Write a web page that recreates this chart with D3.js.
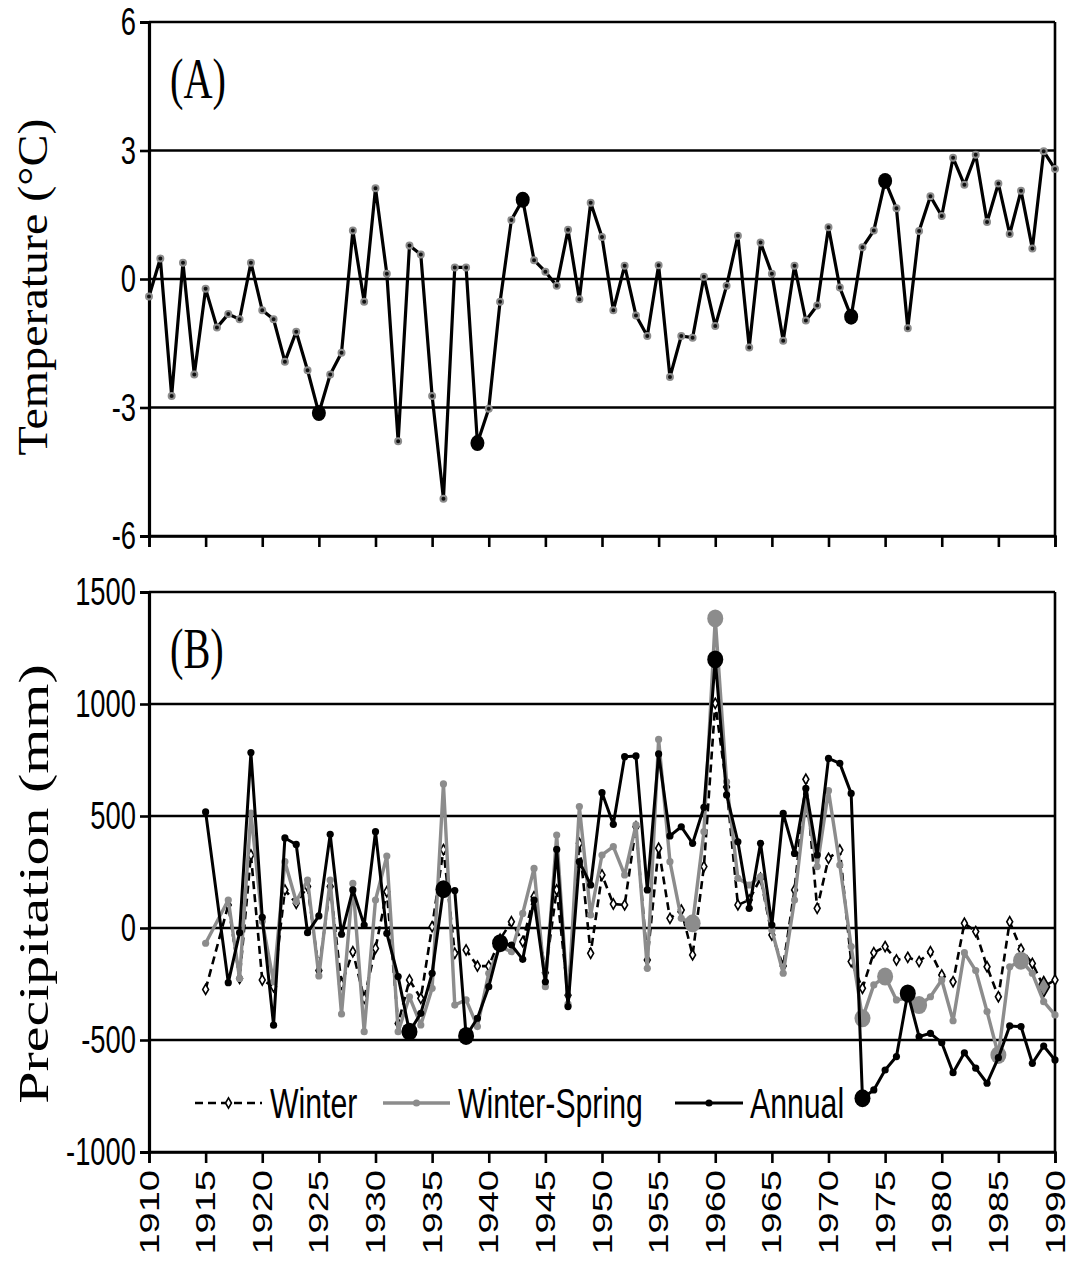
<!DOCTYPE html>
<html>
<head>
<meta charset="utf-8">
<script src="https://cdn.jsdelivr.net/npm/d3@7"></script>
<style>
  body { margin: 0; background: #fff; }
  svg text { fill: #000; }
</style>
</head>
<body>
<svg id="chart" width="1074" height="1267"></svg>
<script>
// ---- Data ----------------------------------------------------------------
const tempYears = d3.range(1910, 1991);
const temperature = [
  -0.41, 0.48, -2.73, 0.38, -2.23, -0.23, -1.13, -0.82, -0.94, 0.38,
  -0.73, -0.94, -1.93, -1.23, -2.13, -3.13, -2.23, -1.72, 1.13, -0.53,
  2.12, 0.12, -3.79, 0.78, 0.57, -2.73, -5.13, 0.27, 0.27, -3.83,
  -3.03, -0.53, 1.38, 1.85, 0.44, 0.17, -0.16, 1.15, -0.47, 1.78,
  0.98, -0.73, 0.31, -0.85, -1.33, 0.32, -2.29, -1.33, -1.37, 0.05,
  -1.10, -0.16, 1.01, -1.60, 0.85, 0.12, -1.44, 0.31, -0.97, -0.62,
  1.21, -0.20, -0.88, 0.74, 1.13, 2.29, 1.65, -1.15, 1.12, 1.93,
  1.47, 2.83, 2.20, 2.90, 1.33, 2.23, 1.05, 2.06, 0.71, 2.98, 2.57
];
const tempHighlight = [1925, 1939, 1943, 1972, 1975];

const precipYears = d3.range(1915, 1991);
const winter = [
  -274, null, 103, -225, 326, -232, -262, 170, 110, 185,
  -190, 185, -250, -106, -314, -91, 162, -426, -232, -314,
  6, 350, -113, -98, -170, -170, -50, 28, -61, 140,
  -200, 170, -300, 378, -113, 237, 107, 103, 452, -143,
  356, 43, 80, -120, 274, 1003, 630, 103, 125, 222,
  -31, -170, 170, 664, 88, 311, 348, -150, -269, -110,
  -83, -143, -131, -150, -106, -210, -240, 21, -16, -173,
  -307, 28, -95, -158, -262, -232
];
const winterSpring = [
  -68, null, 125, -225, 513, 30, -240, 296, 118, 214,
  -214, 214, -384, 199, -463, 125, 321, -463, -307, -433,
  -269, 643, -344, -321, -440, -202, -83, -106, 65, 266,
  -262, 415, -340, 542, 58, 326, 363, 237, 460, -180,
  842, 296, 43, 21, 430, 1382, 653, 222, 192, 230,
  -9, -202, 125, 571, 274, 613, 281, -83, -403, -254,
  -217, -321, -314, -344, -307, -232, -414, -110, -190, -373,
  -567, -173, -146, -202, -329, -388
];
const annual = [
  518, null, -244, -21, 783, 48, -434, 402, 373, -21,
  54, 418, -28, 170, 13, 430, -24, -217, -463, -381,
  -202, 173, 167, -482, -403, -262, -68, -76, -140, 125,
  -240, 351, -351, 296, 192, 604, 463, 765, 768, 170,
  777, 411, 452, 378, 539, 1199, 594, 385, 88, 378,
  13, 512, 333, 623, 326, 757, 735, 601, -760, -723,
  -634, -574, -292, -485, -470, -512, -646, -557, -626, -693,
  -579, -437, -440, -604, -527, -589
];
const annualHighlight = [1933, 1936, 1938, 1941, 1960, 1973, 1977];
const winterSpringHighlight = [1958, 1960, 1973, 1975, 1978, 1985, 1987];
const winterHighlight = [1989];

const tempTicks = [-6, -3, 0, 3, 6];
const precipTicks = [-1000, -500, 0, 500, 1000, 1500];
const yearTicks = d3.range(1910, 1991, 5);
const seriesNames = ["Winter", "Winter-Spring", "Annual"];

// ---- Layout ---------------------------------------------------------------
const svg = d3.select("#chart");
const GREY = "#8c8c8c";
const SQ = 0.72;                 // horizontal squeeze applied to lettering
const sans = "'Liberation Sans', Arial, sans-serif";
const serif = "'Liberation Serif', 'Times New Roman', serif";

const x = d3.scaleLinear().domain([1910, 1990]).range([149, 1055]);
const yA = d3.scaleLinear().domain([-6, 6]).range([536, 22]);
const yB = d3.scaleLinear().domain([-1000, 1500]).range([1152, 592]);

function squeezedText(g, tx, ty, str, opts) {
  const sq = opts.squeeze || SQ;
  return g.append("text")
    .attr("transform", `translate(${tx},${ty}) scale(${sq},1)` + (opts.rotate ? " rotate(-90)" : ""))
    .attr("font-family", opts.family || sans)
    .attr("font-size", opts.size)
    .attr("text-anchor", opts.anchor || "start")
    .attr("dy", opts.dy || "0.35em")
    .text(str);
}

function frame(y, ticks) {
  const g = svg.append("g");
  const [yBot, yTop] = y.range();
  // horizontal grid lines
  g.selectAll("line.grid").data(ticks).join("line")
    .attr("x1", x(1910)).attr("x2", x(1990))
    .attr("y1", d => y(d)).attr("y2", d => y(d))
    .attr("stroke", "#000").attr("stroke-width", 2.6);
  // right border
  g.append("line").attr("x1", x(1990)).attr("x2", x(1990))
    .attr("y1", yTop).attr("y2", yBot).attr("stroke", "#000").attr("stroke-width", 2.6);
  // left axis
  const axL = d3.axisLeft(y).tickValues(ticks).tickSize(9).tickFormat("");
  g.append("g").attr("transform", `translate(${x(1910)},0)`).call(axL)
    .call(s => s.select(".domain").attr("stroke-width", 3.2))
    .call(s => s.selectAll(".tick line").attr("stroke-width", 2.6));
  ticks.forEach(v => squeezedText(g, 136, y(v), String(v), { size: 38, anchor: "end" }));
  // bottom axis
  const axB = d3.axisBottom(x).tickValues(yearTicks).tickSize(11).tickFormat("");
  g.append("g").attr("transform", `translate(0,${yBot})`).call(axB)
    .call(s => s.select(".domain").attr("stroke-width", 2.6))
    .call(s => s.selectAll(".tick line").attr("stroke-width", 2.6));
  return g;
}

// ---- Panel A: temperature -------------------------------------------------
const gA = frame(yA, tempTicks);
const tempData = tempYears.map((yr, i) => ({ yr, v: temperature[i] }));
gA.append("path").datum(tempData)
  .attr("fill", "none").attr("stroke", "#000").attr("stroke-width", 3.2)
  .attr("stroke-linejoin", "round")
  .attr("d", d3.line().x(d => x(d.yr)).y(d => yA(d.v)));
gA.selectAll("circle.pt").data(tempData).join("circle")
  .attr("cx", d => x(d.yr)).attr("cy", d => yA(d.v)).attr("r", 3)
  .attr("fill", "#111").attr("stroke", GREY).attr("stroke-width", 2);
gA.selectAll("ellipse.big").data(tempData.filter(d => tempHighlight.includes(d.yr))).join("ellipse")
  .attr("cx", d => x(d.yr)).attr("cy", d => yA(d.v)).attr("rx", 7).attr("ry", 8).attr("fill", "#000");
squeezedText(gA, 170, 78, "(A)", { size: 56, family: serif });
squeezedText(svg, 33, yA(0) + 8, "Temperature (°C)", { size: 48, family: serif, anchor: "middle", rotate: true, squeeze: 0.86 });

// ---- Panel B: precipitation -----------------------------------------------
const gB = frame(yB, precipTicks);
const series = [
  { name: seriesNames[0], vals: winter, hi: winterHighlight },
  { name: seriesNames[1], vals: winterSpring, hi: winterSpringHighlight },
  { name: seriesNames[2], vals: annual, hi: annualHighlight }
].map(s => ({ ...s, data: precipYears.map((yr, i) => ({ yr, v: s.vals[i] })).filter(d => d.v !== null) }));

const lineB = d3.line().x(d => x(d.yr)).y(d => yB(d.v));
const diamond = d3.symbol().type(d3.symbolDiamond);

// Winter: dashed black with open diamonds
const sW = series[0];
gB.append("path").datum(sW.data).attr("d", lineB)
  .attr("fill", "none").attr("stroke", "#000").attr("stroke-width", 2.6)
  .attr("stroke-dasharray", "8,5");
gB.selectAll("path.wd").data(sW.data).join("path")
  .attr("transform", d => `translate(${x(d.yr)},${yB(d.v)})`)
  .attr("d", d => diamond.size(sW.hi.includes(d.yr) ? 120 : 30)())
  .attr("fill", d => sW.hi.includes(d.yr) ? GREY : "#fff")
  .attr("stroke", "#000").attr("stroke-width", 1.6);

// Winter-Spring: grey solid with grey dots
const sS = series[1];
gB.append("path").datum(sS.data).attr("d", lineB)
  .attr("fill", "none").attr("stroke", GREY).attr("stroke-width", 3.4).attr("stroke-linejoin", "round");
gB.selectAll("circle.sd").data(sS.data).join("circle")
  .attr("cx", d => x(d.yr)).attr("cy", d => yB(d.v)).attr("r", 3.6).attr("fill", GREY);
gB.selectAll("ellipse.sb").data(sS.data.filter(d => sS.hi.includes(d.yr))).join("ellipse")
  .attr("cx", d => x(d.yr)).attr("cy", d => yB(d.v)).attr("rx", 8).attr("ry", 9).attr("fill", GREY);

// Annual: black solid with black dots
const sA = series[2];
gB.append("path").datum(sA.data).attr("d", lineB)
  .attr("fill", "none").attr("stroke", "#000").attr("stroke-width", 3).attr("stroke-linejoin", "round");
gB.selectAll("circle.ad").data(sA.data).join("circle")
  .attr("cx", d => x(d.yr)).attr("cy", d => yB(d.v)).attr("r", 3.6).attr("fill", "#000");
gB.selectAll("ellipse.ab").data(sA.data.filter(d => sA.hi.includes(d.yr))).join("ellipse")
  .attr("cx", d => x(d.yr)).attr("cy", d => yB(d.v)).attr("rx", 8).attr("ry", 9).attr("fill", "#000");

squeezedText(gB, 170, 648, "(B)", { size: 56, family: serif });
squeezedText(svg, 33, yB(250) + 12, "Precipitation (mm)", { size: 58, family: serif, anchor: "middle", rotate: true });

// Year labels along the bottom
yearTicks.forEach(yr => squeezedText(svg, x(yr), 1170, String(yr), { size: 38, anchor: "end", rotate: true }));

// ---- Legend ---------------------------------------------------------------
const legY = 1103;
const legend = [
  { x0: 195, x1: 262, tx: 270, name: seriesNames[0], kind: "winter" },
  { x0: 383, x1: 450, tx: 458, name: seriesNames[1], kind: "ws" },
  { x0: 675, x1: 743, tx: 750, name: seriesNames[2], kind: "annual" }
];
const gL = svg.append("g");
legend.forEach(l => {
  const ln = gL.append("line").attr("x1", l.x0).attr("x2", l.x1).attr("y1", legY).attr("y2", legY);
  const cx = (l.x0 + l.x1) / 2;
  if (l.kind === "winter") {
    ln.attr("stroke", "#000").attr("stroke-width", 2.6).attr("stroke-dasharray", "8,5");
    gL.append("path").attr("transform", `translate(${cx},${legY})`).attr("d", diamond.size(30)())
      .attr("fill", "#fff").attr("stroke", "#000").attr("stroke-width", 1.6);
  } else if (l.kind === "ws") {
    ln.attr("stroke", GREY).attr("stroke-width", 3.4);
    gL.append("circle").attr("cx", cx).attr("cy", legY).attr("r", 3.6).attr("fill", GREY);
  } else {
    ln.attr("stroke", "#000").attr("stroke-width", 3);
    gL.append("circle").attr("cx", cx).attr("cy", legY).attr("r", 3.6).attr("fill", "#000");
  }
  squeezedText(gL, l.tx, legY, l.name, { size: 42 });
});
</script>
</body>
</html>
